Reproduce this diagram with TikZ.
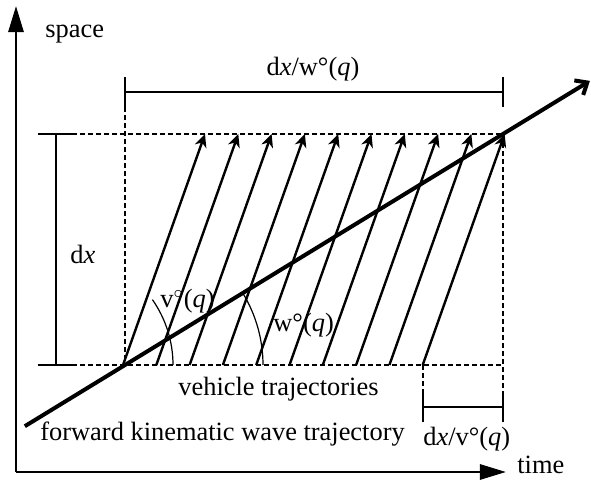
\documentclass[tikz,border=0pt]{standalone}
\usepackage{fontspec}
\setmainfont{Liberation Serif}
\usepackage{tikz}
\usetikzlibrary{arrows.meta,positioning,calc}

\begin{document}
\begin{tikzpicture}[
        x=0.5pt, y=-0.5pt,
        font=\fontsize{13.2}{15}\selectfont,
        axis/.style={-{Triangle[length=13pt,width=7.5pt]}, line width=1.4pt},
        veh/.style={-{Stealth[length=6.5pt,width=6pt,inset=2pt]}, line width=1.2pt},
        wave/.style={-{Straight Barb[length=5pt,width=8.5pt]}, line width=2pt},
        guide/.style={dash pattern=on 2.5pt off 1.5pt, line width=0.6pt},
        dim/.style={line width=0.6pt},
        lbl/.style={inner sep=0pt, anchor=base west}
    ]
    \useasboundingbox (0,0) rectangle (591,488);
    \coordinate (O) at (16,472);
    \coordinate (ytip) at (16,6);
    \coordinate (xtip) at (506,472);
    \coordinate (bl) at (125,365);
    \coordinate (tr) at (503,134);
    \coordinate (ws) at ($(bl)!-0.265!(tr)$);
    \coordinate (we) at ($(bl)!1.23!(tr)$);
    \draw[axis] (O) -- (ytip);
    \draw[axis] (O) -- (xtip);
    \draw[guide] (72,134) -- (tr) -- (503,393);
    \draw[guide] (72,365) -- (503,365);
    \draw[guide] (125,107) -- (bl);
    \draw[guide] (423,365) -- (423,393);
    \draw[dim] (125,77) -- (125,107) (503,77) -- (503,107) (125,92) -- (503,92);
    \draw[dim] (38,134) -- (72,134) (38,365) -- (72,365) (56,134) -- (56,365);
    \draw[dim] (423,393) -- (423,422) (503,393) -- (503,422) (423,407) -- (503,407);
    \foreach \i in {0,...,9} {
        \coordinate (vb\i) at (123+33.3*\i,365);
        \coordinate (vt\i) at (205+33.3*\i,134);
        \draw[veh] (vb\i) -- (vt\i);
    }
    \draw[wave] (ws) -- (we);
    \draw[dim] (59,365) ++(-35:114) arc[start angle=-35, end angle=0, radius=114];
    \draw[dim] (bl) ++(-31.4:138) arc[start angle=-31.4, end angle=0, radius=138];
    \node[lbl] (space) at (45,37) {space};
    \node[lbl] (time) at (517,473) {time};
    \node[lbl, anchor=base] (dxw) at (313,75) {d\textit{x}/w°(\textit{q})};
    \node[lbl] (dx) at (70,263) {d\textit{x}};
    \node[lbl] (vq) at (160,307) {v$^{\circ}$(\textit{q})};
    \node[lbl] (wq) at (273,331) {w°(\textit{q})};
    \node[lbl] (vehtraj) at (178,395) {vehicle trajectories};
    \node[lbl] (fkw) at (40,440) {forward kinematic wave trajectory};
    \node[lbl] (dxv) at (423,445) {d\textit{x}/v°(\textit{q})};
\end{tikzpicture}
\end{document}
